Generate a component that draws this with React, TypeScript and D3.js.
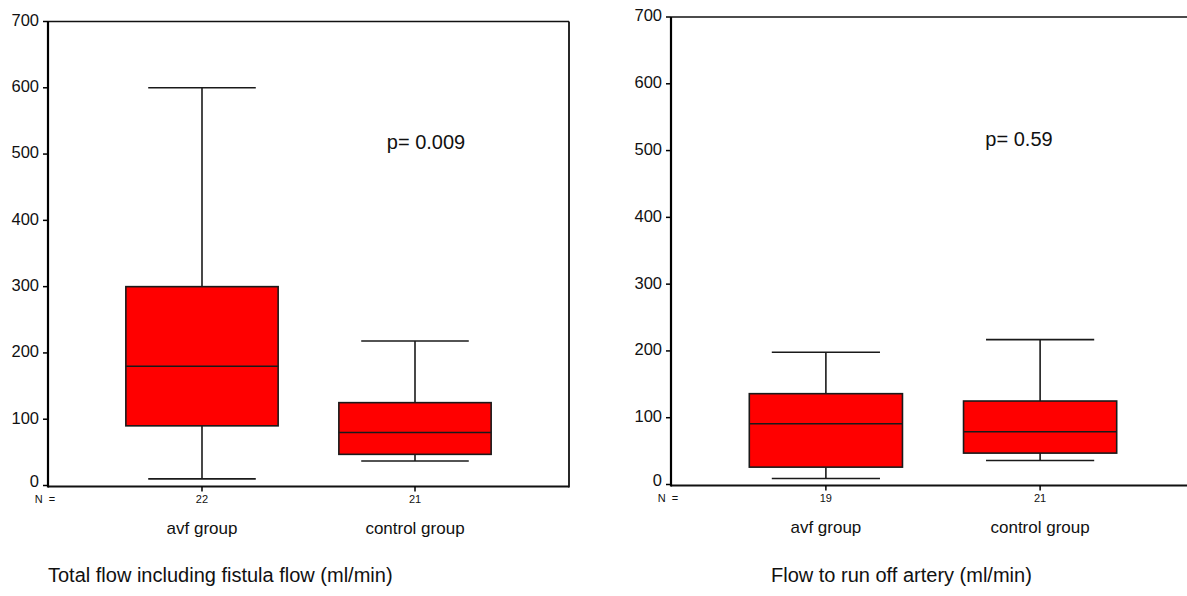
import React from 'react';
import * as d3 from 'd3';

// categories and values
const groups = ['avf group', 'control group'];
const yTicks = [0, 100, 200, 300, 400, 500, 600, 700];

// [whisker low, q1, median, q3, whisker high]
const totalFlowStats = [
  [10, 90, 180, 300, 600],
  [37, 47, 80, 125, 218],
];
const totalFlowN = [22, 21];

const runOffStats = [
  [9, 26, 91, 136, 198],
  [36, 47, 79, 125, 217],
];
const runOffN = [19, 21];

const titles = ['Total flow including fistula flow (ml/min)', 'Flow to run off artery (ml/min)'];
const pLabels = ['p= 0.009', 'p= 0.59'];

const FONT = '"Liberation Sans", Arial, sans-serif';

interface PanelProps {
  x0: number;
  x1: number;
  top: number;
  bottom: number;
  stats: number[][];
  counts: number[];
  title: string;
  titleX: number;
  pLabel: string;
  pX: number;
  rightBorder: boolean;
}

const Panel = ({ x0, x1, top, bottom, stats, counts, title, titleX, pLabel, pX, rightBorder }: PanelProps) => {
  const x = d3.scalePoint<string>().domain(groups).range([x0, x1]).padding(0.723);
  const y = d3.scaleLinear().domain([0, 700]).range([bottom - 1, top]);
  const step = x.step();
  const boxW = step * 0.715;
  const capW = step * 0.505;
  const stroke = '#1a1a1a';

  return (
    <g fontFamily={FONT}>
      {/* frame */}
      <line x1={x0} x2={x1} y1={top} y2={top} stroke="#111" strokeWidth={1.6} />
      <line x1={x0} x2={x1} y1={bottom} y2={bottom} stroke="#111" strokeWidth={2} />
      <line x1={x0} x2={x0} y1={top} y2={bottom + 1} stroke="#000" strokeWidth={2.2} />
      {rightBorder && <line x1={x1} x2={x1} y1={top} y2={bottom + 1} stroke="#111" strokeWidth={1.8} />}

      {/* y axis */}
      {yTicks.map(t => (
        <g key={t}>
          <line x1={x0 - 5} x2={x0} y1={y(t)} y2={y(t)} stroke="#000" strokeWidth={1.5} />
          <text x={x0 - 9} y={y(t) - (t === 0 ? 3 : 0)} textAnchor="end" dominantBaseline="middle" fontSize={16.5} fill="#111">
            {t}
          </text>
        </g>
      ))}

      {/* boxes */}
      {groups.map((g, i) => {
        const [lo, q1, med, q3, hi] = stats[i];
        const cx = x(g) as number;
        return (
          <g key={g}>
            <line x1={cx} x2={cx} y1={y(hi)} y2={y(q3)} stroke={stroke} strokeWidth={1.6} />
            <line x1={cx} x2={cx} y1={y(q1)} y2={y(lo)} stroke={stroke} strokeWidth={1.6} />
            <line x1={cx - capW / 2} x2={cx + capW / 2} y1={y(hi)} y2={y(hi)} stroke={stroke} strokeWidth={1.6} />
            <line x1={cx - capW / 2} x2={cx + capW / 2} y1={y(lo)} y2={y(lo)} stroke={stroke} strokeWidth={1.6} />
            <rect
              x={cx - boxW / 2}
              y={y(q3)}
              width={boxW}
              height={y(q1) - y(q3)}
              fill="#ff0000"
              stroke={stroke}
              strokeWidth={1.6}
            />
            <line x1={cx - boxW / 2} x2={cx + boxW / 2} y1={y(med)} y2={y(med)} stroke={stroke} strokeWidth={1.6} />
            <line x1={cx} x2={cx} y1={bottom} y2={bottom + 5} stroke="#000" strokeWidth={1.5} />
            <text x={cx} y={bottom + 14} textAnchor="middle" dominantBaseline="middle" fontSize={11} fill="#111">
              {counts[i]}
            </text>
            <text x={cx} y={bottom + 43} textAnchor="middle" dominantBaseline="middle" fontSize={17} fill="#111">
              {g}
            </text>
          </g>
        );
      })}

      <text x={x0 - 3} y={bottom + 14} textAnchor="middle" dominantBaseline="middle" fontSize={11} fill="#111" style={{ whiteSpace: 'pre' }}>
        {'N  ='}
      </text>

      <text x={pX} y={y(515)} textAnchor="middle" dominantBaseline="middle" fontSize={20} fill="#111">
        {pLabel}
      </text>

      <text x={titleX} y={582} fontSize={20} fill="#111">
        {title}
      </text>
    </g>
  );
};

export default function App() {
  return (
    <svg
      width={1187}
      height={596}
      style={{ position: 'absolute', left: 0, top: 0, background: '#fff' }}
    >
      <rect width={1187} height={596} fill="#fff" />
      <Panel
        x0={48}
        x1={569}
        top={21.5}
        bottom={486.5}
        stats={totalFlowStats}
        counts={totalFlowN}
        title={titles[0]}
        titleX={48}
        pLabel={pLabels[0]}
        pX={426}
        rightBorder={true}
      />
      <Panel
        x0={671}
        x1={1195}
        top={17}
        bottom={485.5}
        stats={runOffStats}
        counts={runOffN}
        title={titles[1]}
        titleX={771}
        pLabel={pLabels[1]}
        pX={1019}
        rightBorder={false}
      />
    </svg>
  );
}
